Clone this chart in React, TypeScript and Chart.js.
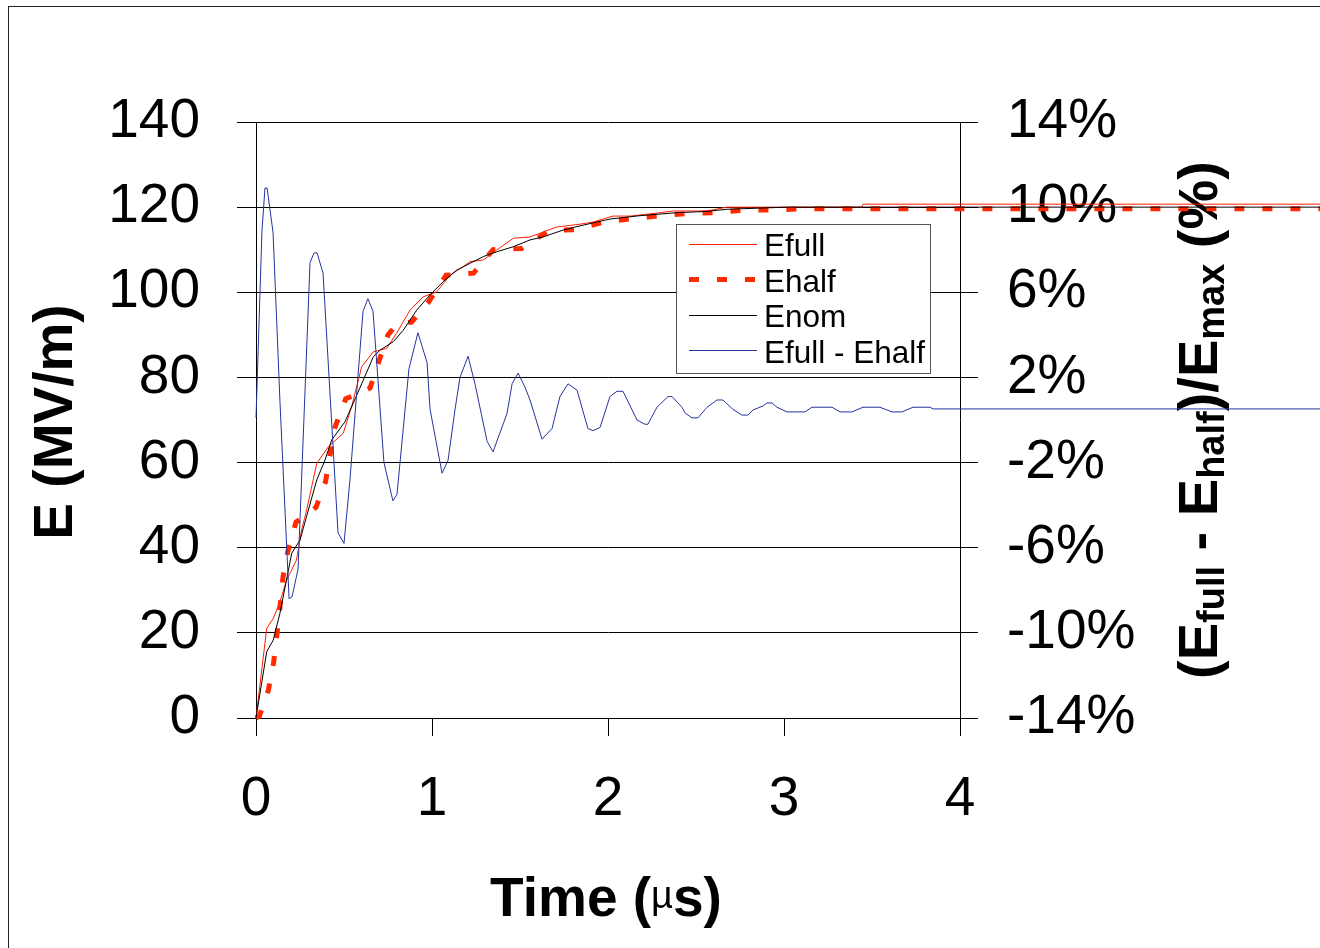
import React, { useEffect, useRef } from "react";
import { Chart, registerables } from "chart.js";

Chart.register(...registerables);

const FONT = "'Liberation Sans', Arial, Helvetica, sans-serif";

// Efull (MV/m)
const timeFull = [0, 0.061, 0.098, 0.136, 0.174, 0.23, 0.259, 0.288, 0.345, 0.411, 0.496, 0.543, 0.582, 0.6, 0.666, 0.742, 0.799, 0.875, 0.949, 1.027, 1.102, 1.176, 1.216, 1.292, 1.367, 1.462, 1.557, 1.705, 1.841, 1.915, 2.028, 2.125, 2.278, 2.369, 2.562, 2.676, 3.017, 3.443, 3.45, 6.3];
const eFull = [0, 21.1, 23.4, 27.3, 32.4, 37.1, 44.2, 48.9, 59.8, 63.7, 66.9, 73.1, 79.4, 82.5, 86, 86.8, 90.4, 95.8, 98.9, 100.1, 104, 106, 107.2, 107.6, 109.9, 112.7, 113, 115.3, 116, 116.5, 117.9, 117.9, 118.6, 119.1, 119.1, 120, 120, 120, 120.7, 120.7];

// Ehalf (MV/m)
const timeHalf = [0, 0.02, 0.07, 0.1, 0.12, 0.136, 0.153, 0.18, 0.227, 0.3, 0.341, 0.395, 0.446, 0.51, 0.6, 0.648, 0.7, 0.75, 0.8, 0.884, 0.977, 1.08, 1.236, 1.347, 1.51, 1.665, 1.81, 1.98, 2.14, 2.3, 2.45, 2.61, 2.77, 2.93, 3.08, 6.3];
const eHalf = [0, 0.5, 6.5, 13, 20, 26, 33, 39, 46, 48, 49.5, 55.5, 68, 75, 76.5, 77.5, 84, 90, 92.5, 93, 97.5, 104, 104.5, 110, 110.3, 114.5, 114.7, 116.5, 117.3, 118, 118.5, 118.7, 119.3, 119.3, 119.6, 119.6];

// Enom (MV/m)
const timeNom = [0, 0.061, 0.098, 0.136, 0.203, 0.25, 0.345, 0.392, 0.43, 0.506, 0.61, 0.667, 0.705, 0.78, 0.837, 0.913, 0.989, 1.064, 1.14, 1.216, 1.292, 1.367, 1.462, 1.557, 1.631, 1.744, 1.841, 2.011, 2.182, 2.392, 2.562, 2.676, 3.017, 6.3];
const eNom = [0, 15.6, 18.3, 24.6, 38.7, 41.8, 55.9, 60.6, 65.3, 69.6, 79.4, 84.9, 86.4, 88.4, 91.1, 95.8, 99.4, 102.5, 105.2, 106.8, 108.4, 109.5, 110.7, 112.3, 113, 114.6, 115.6, 117.2, 118, 118.7, 119, 119.5, 120, 120];

// (Efull - Ehalf)/Emax (%)
const timeDiff = [0, 0.034, 0.051, 0.063, 0.097, 0.136, 0.188, 0.205, 0.239, 0.307, 0.33, 0.347, 0.381, 0.466, 0.5, 0.534, 0.608, 0.636, 0.665, 0.727, 0.778, 0.801, 0.869, 0.92, 0.972, 0.989, 1.057, 1.091, 1.131, 1.159, 1.205, 1.244, 1.313, 1.347, 1.375, 1.426, 1.455, 1.489, 1.528, 1.557, 1.625, 1.682, 1.727, 1.773, 1.824, 1.886, 1.915, 1.955, 2.011, 2.051, 2.085, 2.165, 2.21, 2.227, 2.278, 2.341, 2.364, 2.42, 2.438, 2.477, 2.511, 2.563, 2.619, 2.653, 2.71, 2.761, 2.795, 2.824, 2.881, 2.903, 2.932, 2.96, 3.017, 3.119, 3.159, 3.273, 3.318, 3.386, 3.449, 3.545, 3.614, 3.67, 3.733, 3.83, 3.847, 6.3];
const diffPct = [0.1, 8.9, 10.9, 10.9, 8.8, 0.9, -8.4, -8.3, -7.0, 7.4, 7.85, 7.85, 6.9, -5.3, -5.8, -2.8, 5.1, 5.7, 5.1, -2.0, -3.8, -3.5, 2.4, 4.1, 2.7, 0.5, -2.5, -1.9, 0.5, 2.0, 3.0, 1.7, -1.0, -1.5, -0.85, 0.3, 1.7, 2.2, 1.55, 0.94, -0.9, -0.4, 1.1, 1.7, 1.4, -0.4, -0.5, -0.35, 1.1, 1.35, 1.35, 0.0, -0.2, -0.2, 0.6, 1.1, 1.1, 0.6, 0.33, 0.1, 0.1, 0.6, 0.94, 0.94, 0.5, 0.23, 0.23, 0.47, 0.66, 0.8, 0.8, 0.6, 0.38, 0.38, 0.6, 0.6, 0.38, 0.38, 0.6, 0.6, 0.38, 0.38, 0.6, 0.6, 0.52, 0.52];

const xTicks = [0, 1, 2, 3, 4];
const leftTicks = [0, 20, 40, 60, 80, 100, 120, 140];
const rightTicks = [-14, -10, -6, -2, 2, 6, 10, 14];
const seriesLabels = ["Efull", "Ehalf", "Enom", "Efull - Ehalf"];

const pts = (xs: number[], ys: number[]) => xs.map((x, i) => ({ x, y: ys[i] }));

type Part = { t: string; font: string; dy: number };

function drawParts(ctx: CanvasRenderingContext2D, parts: Part[]) {
  let total = 0;
  for (const p of parts) {
    ctx.font = p.font;
    total += ctx.measureText(p.t).width;
  }
  let x = -total / 2;
  ctx.textAlign = "left";
  ctx.textBaseline = "alphabetic";
  for (const p of parts) {
    ctx.font = p.font;
    ctx.fillText(p.t, x, p.dy);
    x += ctx.measureText(p.t).width;
  }
}

const decorPlugin = {
  id: "decor",
  beforeDraw(chart: any) {
    const ctx: CanvasRenderingContext2D = chart.ctx;
    ctx.save();
    ctx.strokeStyle = "#222";
    ctx.lineWidth = 1;
    ctx.strokeRect(8.5, 6.5, 2000, 2000);
    ctx.restore();
  },
  beforeDatasetsDraw(chart: any) {
    const ctx: CanvasRenderingContext2D = chart.ctx;
    const { chartArea } = chart;
    const midY = (chartArea.top + chartArea.bottom) / 2;
    ctx.save();
    ctx.fillStyle = "#000";
    // left title
    ctx.save();
    ctx.translate(72, midY + 2);
    ctx.rotate(-Math.PI / 2);
    drawParts(ctx, [{ t: "E (MV/m)", font: `bold 55px ${FONT}`, dy: 0 }]);
    ctx.restore();
    // bottom title
    ctx.save();
    ctx.translate((chartArea.left + chartArea.right) / 2 - 2, 916);
    drawParts(ctx, [
      { t: "Time (", font: `bold 55px ${FONT}`, dy: 0 },
      { t: "\u00B5", font: `38px ${FONT}`, dy: -8 },
      { t: "s)", font: `bold 55px ${FONT}`, dy: 0 },
    ]);
    ctx.restore();
    // right title
    ctx.save();
    ctx.translate(1217, midY);
    ctx.rotate(-Math.PI / 2);
    const big = `bold 56px ${FONT}`;
    const sub = `bold 38px ${FONT}`;
    drawParts(ctx, [
      { t: "(E", font: big, dy: 0 },
      { t: "full", font: sub, dy: 7 },
      { t: " - E", font: big, dy: 0 },
      { t: "half", font: sub, dy: 7 },
      { t: ")/E", font: big, dy: 0 },
      { t: "max", font: sub, dy: 7 },
      { t: " (%)", font: big, dy: 0 },
    ]);
    ctx.restore();
    ctx.restore();
  },
  afterDatasetsDraw(chart: any) {
    const ctx: CanvasRenderingContext2D = chart.ctx;
    const bx = 676, by = 224, bw = 254, bh = 149;
    ctx.save();
    ctx.fillStyle = "#fff";
    ctx.fillRect(bx, by, bw, bh);
    ctx.strokeStyle = "#555";
    ctx.lineWidth = 1;
    ctx.strokeRect(bx + 0.5, by + 0.5, bw, bh);
    const rowH = 35.6;
    chart.data.datasets.forEach((ds: any, i: number) => {
      const ly = Math.round(by + 19.5 + i * rowH) + (ds.borderWidth % 2 === 1 ? 0.5 : 0);
      ctx.save();
      ctx.strokeStyle = ds.borderColor;
      ctx.lineWidth = ds.borderWidth;
      ctx.lineCap = "butt";
      ctx.setLineDash(ds.borderDash || []);
      ctx.beginPath();
      ctx.moveTo(bx + 13, ly);
      ctx.lineTo(bx + 81, ly);
      ctx.stroke();
      ctx.restore();
      ctx.fillStyle = "#000";
      ctx.font = `31.5px ${FONT}`;
      ctx.textAlign = "left";
      ctx.textBaseline = "alphabetic";
      ctx.fillText(seriesLabels[i], bx + 88, by + 32 + i * rowH);
    });
    ctx.restore();
  },
};

export default function App() {
  const ref = useRef<HTMLCanvasElement>(null);
  useEffect(() => {
    const tickFont = { family: FONT, size: 55 };
    const common = { pointRadius: 0, tension: 0, fill: false, clip: false as any, borderCapStyle: "butt" as const };
    const chart = new Chart(ref.current as HTMLCanvasElement, {
      type: "line",
      data: {
        datasets: [
          { label: seriesLabels[0], data: pts(timeFull, eFull), borderColor: "#FF1E00", borderWidth: 1, yAxisID: "y", order: 3, ...common },
          { label: seriesLabels[1], data: pts(timeHalf, eHalf), borderColor: "#FF2A00", borderWidth: 5, borderDash: [10, 18], yAxisID: "y", order: 2, ...common },
          { label: seriesLabels[2], data: pts(timeNom, eNom), borderColor: "#000000", borderWidth: 1, yAxisID: "y", order: 1, ...common },
          { label: seriesLabels[3], data: pts(timeDiff, diffPct), borderColor: "#24349E", borderWidth: 1, yAxisID: "y2", order: 0, ...common },
        ],
      },
      options: {
        responsive: false,
        animation: false,
        devicePixelRatio: 1,
        events: [],
        layout: { padding: { top: 122, left: 0, right: 0, bottom: 0 } },
        plugins: { legend: { display: false }, tooltip: { enabled: false } },
        scales: {
          x: {
            type: "linear",
            min: 0,
            max: 4,
            afterBuildTicks: (s: any) => { s.ticks = xTicks.map((v) => ({ value: v })); },
            afterFit: (s: any) => { s.height = 230; },
            grid: { drawOnChartArea: false, tickLength: 18, color: "#000", lineWidth: 1 },
            border: { display: true, color: "#000", width: 1 },
            ticks: { font: tickFont, color: "#000", padding: 31, maxRotation: 0, autoSkip: false },
          },
          y: {
            type: "linear",
            position: "left",
            min: 0,
            max: 140,
            afterBuildTicks: (s: any) => { s.ticks = leftTicks.map((v) => ({ value: v })); },
            afterFit: (s: any) => { s.width = 256; },
            grid: { color: "#000", lineWidth: 1, tickLength: 19 },
            border: { display: true, color: "#000", width: 1 },
            ticks: { font: tickFont, color: "#000", padding: 37, autoSkip: false },
          },
          y2: {
            type: "linear",
            position: "right",
            min: -14,
            max: 14,
            afterBuildTicks: (s: any) => { s.ticks = rightTicks.map((v) => ({ value: v })); },
            afterFit: (s: any) => { s.width = 360; },
            grid: { drawOnChartArea: false, color: "#000", lineWidth: 1, tickLength: 18 },
            border: { display: true, color: "#000", width: 1 },
            ticks: { font: tickFont, color: "#000", padding: 29, autoSkip: false, callback: (v: any) => `${v}%` },
          },
        },
      },
      plugins: [decorPlugin],
    } as any);
    return () => chart.destroy();
  }, []);
  return (
    <div style={{ position: "fixed", left: 0, top: 0, width: 1320, height: 948, background: "#fff" }}>
      <canvas ref={ref} width={1320} height={948} style={{ display: "block", width: 1320, height: 948 }} />
    </div>
  );
}
